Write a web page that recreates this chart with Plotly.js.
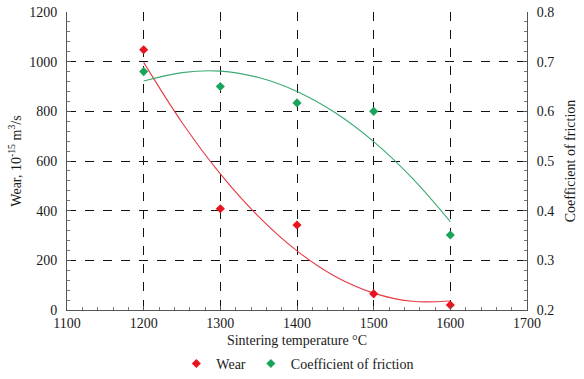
<!DOCTYPE html>
<html>
<head>
<meta charset="utf-8">
<script src="https://cdn.plot.ly/plotly-3.0.1.min.js"></script>
<style>
  html, body { margin: 0; padding: 0; background: #fff; }
  #graph { width: 584px; height: 379px; }
</style>
</head>
<body>
<div id="graph"></div>
<script>
// measured points
var temps = [1200, 1300, 1400, 1500, 1600];
var wear = [1048, 408, 342, 65, 20];
var friction = [0.68, 0.65, 0.617, 0.6, 0.351];

// trend curves
var fitTemps = [1200, 1250, 1300, 1350, 1400, 1450, 1500, 1550, 1600];
var wearFit = [997, 755, 548, 376, 238, 135, 68, 35, 36];
var frictionFit = [0.661, 0.678, 0.681, 0.668, 0.640, 0.597, 0.539, 0.466, 0.378];

var red = '#e8141e';
var green = '#1aa35a';

var data = [{
	x: fitTemps,
	y: wearFit,
	type: 'scatter',
	mode: 'lines',
	line: {color: '#e43c44', width: 1.1, shape: 'spline'},
	showlegend: false,
	hoverinfo: 'skip'
},{
	x: fitTemps,
	y: frictionFit,
	yaxis: 'y2',
	type: 'scatter',
	mode: 'lines',
	line: {color: '#3aaa72', width: 1.1, shape: 'spline'},
	showlegend: false,
	hoverinfo: 'skip'
},{
	x: temps,
	y: wear,
	type: 'scatter',
	mode: 'markers',
	marker: {symbol: 'diamond', size: 7, color: red},
	name: 'Wear'
},{
	x: temps,
	y: friction,
	yaxis: 'y2',
	type: 'scatter',
	mode: 'markers',
	marker: {symbol: 'diamond', size: 7, color: green},
	name: 'Coefficient of friction'
}];

var font = {family: 'Liberation Serif', size: 14, color: '#1a1a1a'};

var layout = {
	width: 584,
	height: 379,
	margin: {l: 67, r: 57, t: 12, b: 69, autoexpand: false},
	paper_bgcolor: '#fff',
	plot_bgcolor: '#fff',
	font: font,
	showlegend: true,
	legend: {
		orientation: 'h',
		x: 0.51, xref: 'container', xanchor: 'center',
		y: 0.04, yref: 'container', yanchor: 'middle',
		font: font,
		itemwidth: 20,
		tracegroupgap: 0
	},
	xaxis: {
		range: [1100, 1700],
		dtick: 100,
		tick0: 1100,
		tickfont: font,
		showline: true,
		linecolor: '#555',
		linewidth: 1,
		ticks: 'inside',
		ticklen: 4,
		tickcolor: '#555',
		minor: {dtick: 20, ticks: 'inside', ticklen: 3, tickcolor: '#777'},
		showgrid: true,
		gridcolor: '#111',
		griddash: 'dash',
		gridwidth: 1,
		zeroline: false,
		automargin: false,
		title: {text: 'Sintering temperature °C', font: font, standoff: 10}
	},
	yaxis: {
		range: [0, 1200],
		dtick: 200,
		tickfont: font,
		showline: true,
		linecolor: '#555',
		linewidth: 1,
		ticks: 'inside',
		ticklen: 4,
		tickcolor: '#555',
		ticklabelstandoff: 6,
		minor: {dtick: 40, ticks: 'inside', ticklen: 3, tickcolor: '#777'},
		showgrid: true,
		gridcolor: '#111',
		griddash: 'dash',
		gridwidth: 1,
		zeroline: false,
		automargin: false,
		title: {text: 'Wear, 10<sup>-15</sup> m<sup>3</sup>/s', font: font, standoff: 4}
	},
	yaxis2: {
		overlaying: 'y',
		side: 'right',
		range: [0.2, 0.8],
		dtick: 0.1,
		tickformat: '.1f',
		tickfont: font,
		showline: true,
		linecolor: '#555',
		linewidth: 1,
		ticks: 'inside',
		ticklen: 4,
		tickcolor: '#555',
		ticklabelstandoff: 6,
		minor: {dtick: 0.02, ticks: 'inside', ticklen: 3, tickcolor: '#777'},
		showgrid: false,
		zeroline: false,
		automargin: false,
		title: {text: 'Coefficient of friction', font: font, standoff: 11}
	}
};

Plotly.newPlot('graph', data, layout, {displayModeBar: false, staticPlot: true});
</script>
</body>
</html>
